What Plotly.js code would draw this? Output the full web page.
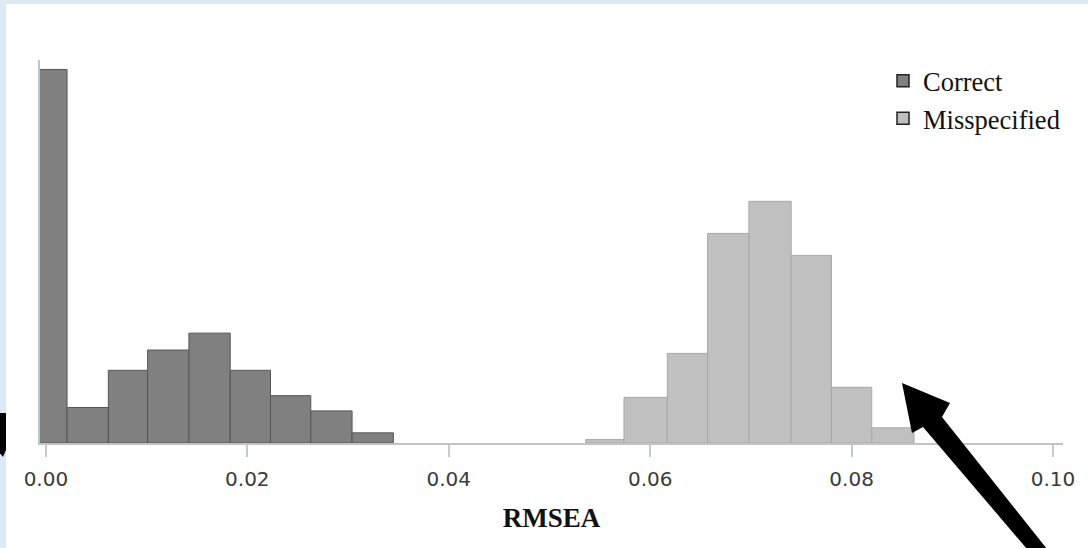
<!DOCTYPE html>
<html>
<head>
<meta charset="utf-8">
<script src="https://cdn.plot.ly/plotly-3.0.1.min.js"></script>
<style>
  html, body { margin: 0; padding: 0; background: #dde9f5; }
  #chart { width: 1088px; height: 548px; }
</style>
</head>
<body>
<div id="chart"></div>
<script>
// ---- data ----
const seriesNames = ['Correct', 'Misspecified'];
const correctEdges = [-0.0020, 0.0021, 0.0062, 0.0101, 0.0142, 0.0183, 0.0223, 0.0263, 0.0304, 0.0345];
const correctCounts = [221, 21, 43, 55, 65, 43, 28, 19, 6];
const misEdges = [0.0536, 0.0574, 0.0617, 0.0657, 0.0698, 0.0740, 0.0780, 0.0820, 0.0862];
const misCounts = [2, 27, 53, 124, 143, 111, 33, 9];
const tickVals = [0, 0.02, 0.04, 0.06, 0.08, 0.10];
const tickLabels = ['0.00', '0.02', '0.04', '0.06', '0.08', '0.10'];
const xTitle = 'RMSEA';

function centers(e) { const c = []; for (let i = 0; i < e.length - 1; i++) c.push((e[i] + e[i + 1]) / 2); return c; }
function widths(e) { const w = []; for (let i = 0; i < e.length - 1; i++) w.push(e[i + 1] - e[i]); return w; }

// ---- layout geometry ----
const W = 1088, H = 548;
const M = { l: 40, r: 25, t: 60, b: 105 };
const PW = W - M.l - M.r, PH = H - M.t - M.b;
const px = v => (v - M.l) / PW;        // page pixel -> paper x
const py = v => 1 - (v - M.t) / PH;    // page pixel -> paper y
function pathFrom(points) {
  return 'M' + points.map(p => px(p[0]).toFixed(5) + ',' + py(p[1]).toFixed(5)).join('L') + 'Z';
}

const colors = { correct: '#808080', mis: '#c0c0c0' };

const traces = [
  {
    type: 'bar', name: seriesNames[0], showlegend: false,
    x: centers(correctEdges), y: correctCounts, width: widths(correctEdges),
    marker: { color: colors.correct, line: { color: '#555555', width: 1 } },
    hoverinfo: 'skip'
  },
  {
    type: 'bar', name: seriesNames[1], showlegend: false,
    x: centers(misEdges), y: misCounts, width: widths(misEdges),
    marker: { color: colors.mis, line: { color: '#a8a8a8', width: 1 } },
    hoverinfo: 'skip'
  },
  // legend entries (outlined swatches as in the reference)
  { type: 'bar', name: seriesNames[0], x: [null], y: [null], showlegend: true,
    marker: { color: colors.correct, line: { color: '#222222', width: 1.5 } } },
  { type: 'bar', name: seriesNames[1], x: [null], y: [null], showlegend: true,
    marker: { color: colors.mis, line: { color: '#222222', width: 1.5 } } }
];

const layout = {
  width: W, height: H,
  margin: M,
  paper_bgcolor: '#dde9f5',
  plot_bgcolor: 'rgba(0,0,0,0)',
  barmode: 'overlay',
  bargap: 0,
  showlegend: true,
  legend: {
    x: px(883), y: py(57), xanchor: 'left', yanchor: 'top',
    bgcolor: 'rgba(0,0,0,0)', borderwidth: 0,
    font: { family: 'Liberation Serif, Times New Roman, serif', size: 26.5, color: '#111111' },
    tracegroupgap: 0
  },
  xaxis: {
    range: [-0.000586, 0.10099],
    showgrid: false, zeroline: false,
    showline: true, linecolor: '#bcc5cb', linewidth: 2,
    ticks: 'outside', ticklen: 12, tickwidth: 2, tickcolor: '#c3cbd0',
    ticklabelstandoff: 5,
    tickmode: 'array', tickvals: tickVals, ticktext: tickLabels,
    tickfont: { family: 'DejaVu Sans, sans-serif', size: 20, color: '#3a3a3a' },
    title: { text: xTitle, standoff: 18,
      font: { family: 'Liberation Serif, Times New Roman, serif', size: 27, weight: 'bold', color: '#111111' } },
    fixedrange: true
  },
  yaxis: {
    range: [0, 226.6],
    showgrid: false, zeroline: false,
    showline: true, linecolor: '#bcc5cb', linewidth: 2,
    ticks: '', showticklabels: false,
    fixedrange: true
  },
  shapes: [
    // white chart panel over the light-blue page
    { type: 'rect', xref: 'paper', yref: 'paper', layer: 'below',
      x0: px(6), x1: px(W + 2), y0: py(H + 2), y1: py(4),
      fillcolor: '#ffffff', line: { width: 0 } },
    // big black pointer arrow at lower right
    { type: 'path', xref: 'paper', yref: 'paper', layer: 'above',
      path: pathFrom([[902, 383], [950, 403], [942, 417], [1047, 549], [1027, 549], [923, 427], [912, 433]]),
      fillcolor: '#000000', line: { width: 0 } },
    // fragment of another arrow at the left edge
    { type: 'path', xref: 'paper', yref: 'paper', layer: 'above',
      path: pathFrom([[-1, 413], [6, 413], [6, 450], [3, 457], [-1, 452]]),
      fillcolor: '#000000', line: { width: 0 } }
  ]
};

Plotly.newPlot('chart', traces, layout, { displayModeBar: false, staticPlot: true });
</script>
</body>
</html>
